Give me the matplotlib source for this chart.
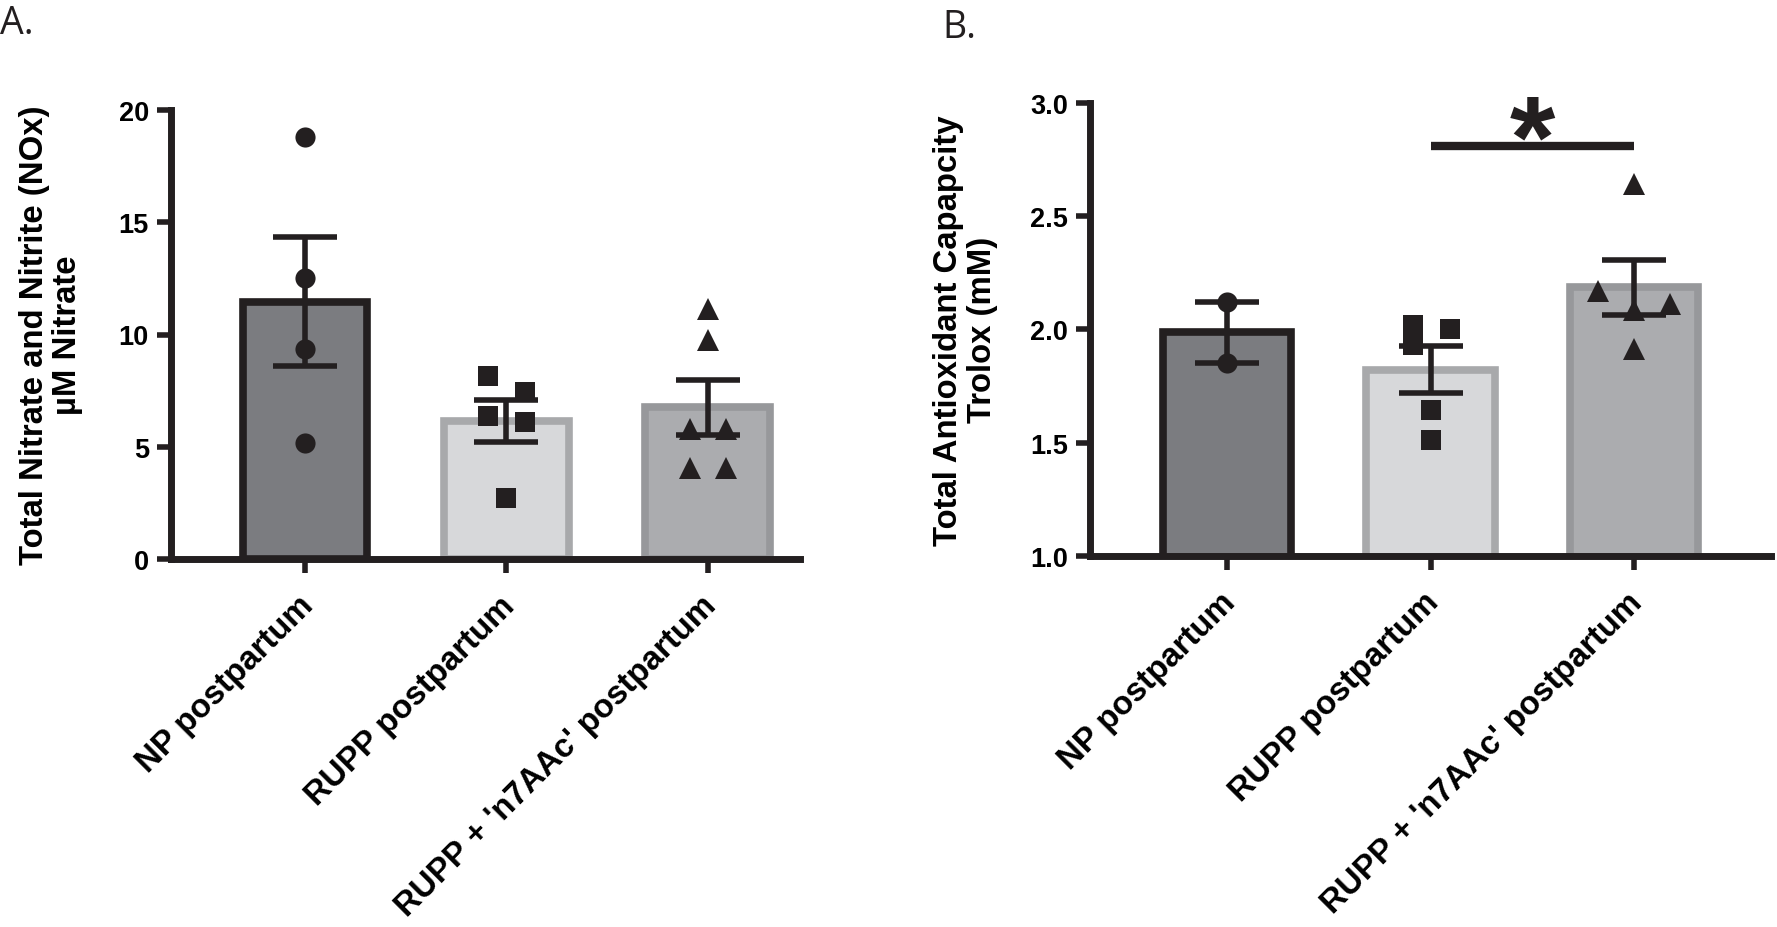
import numpy as np
import matplotlib.pyplot as plt
from matplotlib.transforms import ScaledTranslation

# ---- data ----
groups = ['NP postpartum', 'RUPP postpartum', "RUPP + 'n7AAc' postpartum"]

# panel A: total nitrate + nitrite (uM)
nox_np = [18.80, 12.51, 9.37, 5.18]
nox_rupp = [8.17, 7.42, 6.38, 6.12, 2.73]
nox_n7 = [11.15, 9.77, 5.79, 5.79, 4.05, 4.05]

# panel B: total antioxidant capacity (mM Trolox)
tac_np = [2.122, 1.853]
tac_rupp = [2.019, 1.931, 2.003, 1.645, 1.513]
tac_n7 = [2.641, 2.169, 2.114, 2.086, 1.915]

# horizontal scatter offsets of the dots (as drawn)
jit_a = [[0, 0, 0, 0], [-0.09, 0.09, -0.09, 0.09, 0], [0, 0, -0.09, 0.09, -0.09, 0.09]]
jit_b = [[0, 0], [-0.085, -0.085, 0.095, 0, 0], [0, -0.178, 0.177, 0, 0]]

INK = '#231f20'
fills = ['#7b7c80', '#d7d8da', '#abacaf']
edges = [INK, '#a8a9ab', '#97989b']
markers = ['o', 's', '^']
msizes = [14.5, 14.5, 16]

plt.rcParams['font.family'] = ['Liberation Sans', 'DejaVu Sans']
plt.rcParams['font.weight'] = 'bold'

fig = plt.figure(figsize=(17.77, 9.28), dpi=100)


def panel(rect, data, jit, width, ylim, yticks, ylabel, xlim, label_x):
    ax = fig.add_axes(rect)
    x = np.arange(len(data))
    means = [np.mean(d) for d in data]
    sems = [np.std(d, ddof=1) / np.sqrt(len(d)) for d in data]
    ax.bar(x, means, width=width, color=fills, edgecolor=edges, linewidth=5.5, zorder=1)
    for i, d in enumerate(data):
        ax.plot(x[i] + np.array(jit[i]), d, linestyle='none', marker=markers[i],
                ms=msizes[i], mew=0, color=INK, zorder=3, clip_on=False)
    ax.errorbar(x, means, yerr=sems, fmt='none', ecolor=INK, elinewidth=4,
                capsize=23, capthick=4, zorder=4)
    ax.set_xlim(*xlim)
    ax.set_ylim(*ylim)
    ax.set_yticks(yticks)
    ax.set_xticks(x)
    for s in ['top', 'right']:
        ax.spines[s].set_visible(False)
    for s in ['left', 'bottom']:
        ax.spines[s].set_linewidth(5)
        ax.spines[s].set_color(INK)
    ax.tick_params(direction='out', length=10, width=4, color=INK)
    ax.tick_params(axis='y', labelsize=19.5, pad=6)
    ax.tick_params(axis='x', labelsize=23.8, pad=10)
    ax.set_xticklabels(groups, rotation=45, ha='right', va='top', rotation_mode='anchor',
                       fontweight='bold')
    shift = ScaledTranslation(-0.07, -0.03, fig.dpi_scale_trans)
    for t in ax.get_xticklabels():
        t.set_transform(t.get_transform() + shift)
    for t in ax.get_yticklabels():
        t.set_fontweight('bold')
    ax.set_ylabel(ylabel, fontsize=23.7, fontweight='bold', linespacing=1.1)
    ax.yaxis.label.set_va('center')
    ax.yaxis.set_label_coords(label_x, 0.5)
    return ax


ax_a = panel([171 / 1777, 1 - 560 / 928, 629 / 1777, 449 / 928],
             [nox_np, nox_rupp, nox_n7], jit_a, 0.62, (0, 20), [0, 5, 10, 15, 20],
             'Total Nitrate and Nitrite (NOx)\nµM Nitrate', (-0.665, 2.457), -0.191)

ax_b = panel([1090 / 1777, 1 - 556.7 / 928, 681 / 1777, 452.7 / 928],
             [tac_np, tac_rupp, tac_n7], jit_b, 0.63, (1.0, 3.0), [1.0, 1.5, 2.0, 2.5, 3.0],
             'Total Antioxidant Capapcity\nTrolox (mM)', (-0.673, 2.673), -0.183)
ax_b.yaxis.set_major_formatter('{x:.1f}')

# significance bar between RUPP and RUPP + n7AAc
ax_b.plot([1, 2], [2.808, 2.808], color=INK, lw=6, solid_capstyle='butt', clip_on=False)
ax_b.text(1.5, 2.675, '*', ha='center', va='baseline', fontsize=84, fontweight='bold', color=INK)

fig.text(0.0, 1 - 5 / 928, 'A.', ha='left', va='top', fontsize=27,
         fontweight='normal', family='Open Sans', color=INK)
fig.text(942 / 1777, 1 - 9 / 928, 'B.', ha='left', va='top', fontsize=27,
         fontweight='normal', family='Open Sans', color=INK)

fig.savefig('out.png', dpi=100)
